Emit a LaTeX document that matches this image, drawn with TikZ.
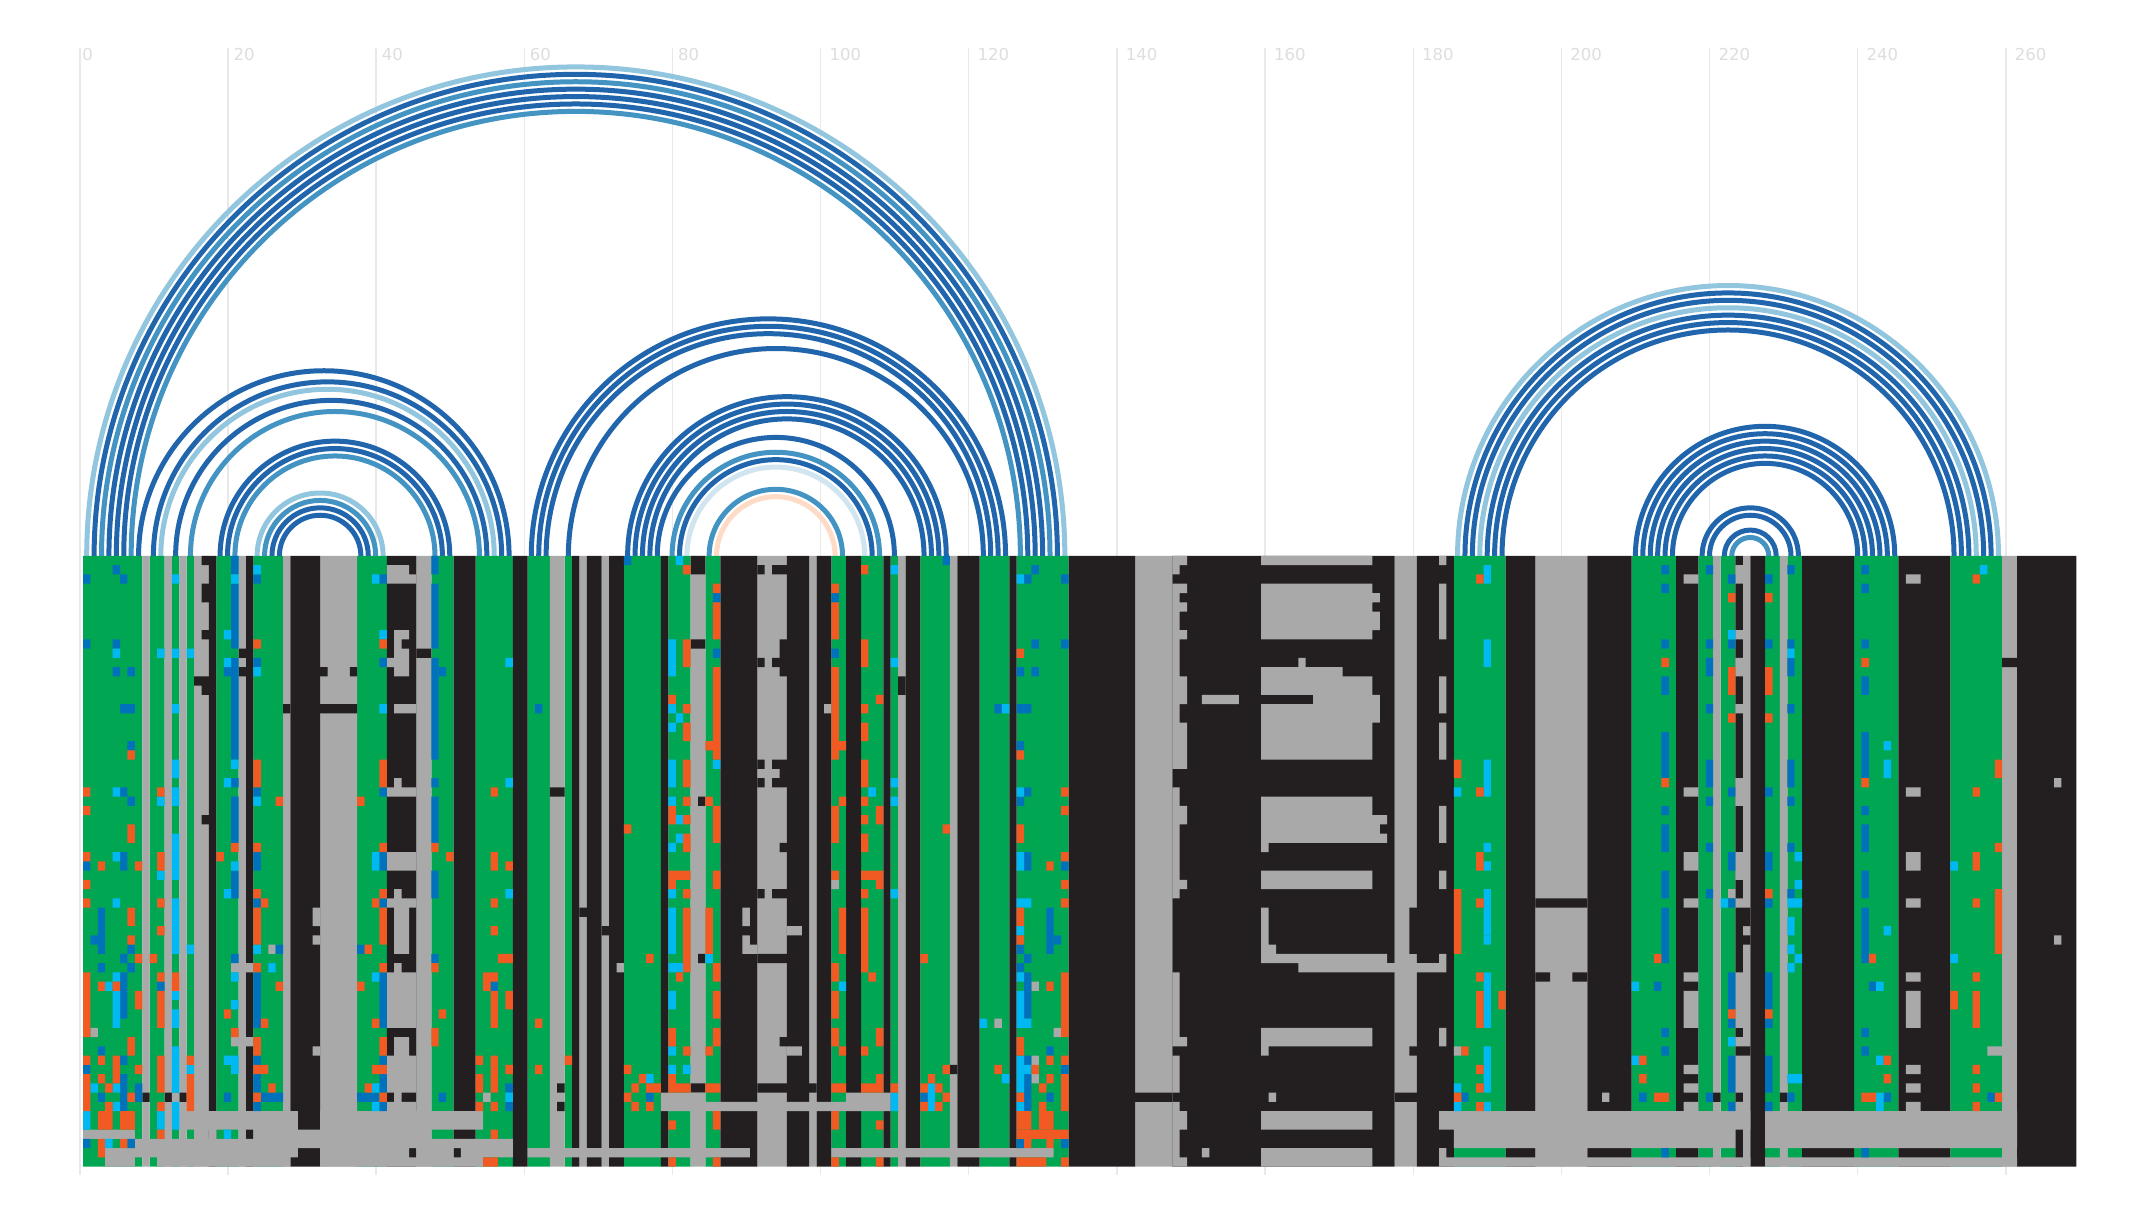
\documentclass[tikz,border=0pt]{standalone}
\usepackage{fontspec}
\setmainfont{DejaVu Sans}
\definecolor{cgreen}{HTML}{00A651}
\definecolor{cgray}{HTML}{A9A9A9}
\definecolor{cblack}{HTML}{231F20}
\definecolor{corange}{HTML}{F15A22}
\definecolor{cblue}{HTML}{0072BC}
\definecolor{ccyan}{HTML}{00B9F2}
\definecolor{adark}{HTML}{2166AC}
\definecolor{amid}{HTML}{4393C3}
\definecolor{alight}{HTML}{92C5DE}
\definecolor{apale}{HTML}{D1E5F0}
\definecolor{apeach}{HTML}{FDDBC7}
\definecolor{gridc}{HTML}{E9E9E9}
\definecolor{labc}{HTML}{DEDEDE}
\newcommand\rectc[2]{\fill[#1] \foreach \c/\r/\w/\h in {#2} {({83+7.41*\c},{664-9.253*\r}) rectangle ++({7.41*\w},{-9.253*\h})};}
\newcommand\runc[2]{\fill[#1] \foreach \c/\r/\h in {#2} {({83+7.41*\c},{664-9.253*\r}) rectangle ++(7.41,{-9.253*\h})};}
\newcommand\onec[2]{\fill[#1] \foreach \c/\r in {#2} {({83+7.41*\c},{664-9.253*\r}) rectangle ++(7.41,-9.253)};}
\newcommand\bandc[2]{\fill[#1] \foreach \c/\w in {#2} {({83+7.41*\c},664) rectangle ++({7.41*\w},{-9.253*66})};}
\tikzset{archline/.style={line width=5pt,line cap=butt},
  gridline/.style={draw=gridc,line width=1.4pt},
  ticklabel/.style={text=labc,font=\fontsize{16.5}{16.5}\selectfont,inner sep=0pt,anchor=base}}
\begin{document}
\begin{tikzpicture}[x=1pt,y=1pt]
\useasboundingbox (0,0) rectangle (2152,1220);
\fill[white] (0,0) rectangle (2152,1220);
% grid and labels
\foreach \i/\n in {0/1,20/2,40/2,60/2,80/2,100/3,120/3,140/3,160/3,180/3,200/3,220/3,240/3,260/3}{
  \draw[gridline] ({79.8+7.408*\i},1172) -- ({79.8+7.408*\i},45);
  \node[ticklabel] (t\i) at ({79.8+7.408*\i+8.5*\n-0.8},1159) {\i};
}
% arcs
\foreach \a/\b/\k in {0/132/alight,1/131/adark,2/130/amid,3/129/adark,4/128/adark,5/127/adark,6/126/amid,
 7/57/adark,9/56/adark,10/55/alight,12/54/adark,14/53/amid,18/49/adark,19/48/adark,20/47/amid,
 23/40/alight,24/39/amid,25/38/adark,26/37/adark,
 60/124/adark,61/123/adark,62/122/adark,65/121/adark,73/116/adark,74/115/adark,75/114/adark,76/113/adark,
 77/109/adark,79/107/amid,80/106/adark,81/105/apale,84/102/amid,85/101/apeach,
 185/258/alight,186/257/adark,187/256/adark,188/255/alight,189/254/adark,190/253/adark,191/252/adark,
 209/244/adark,210/243/adark,211/242/adark,212/241/adark,213/240/adark,214/239/adark,
 218/231/adark,219/230/adark,221/228/adark,222/227/amid}{
  \pgfmathsetmacro\rr{(\b-\a)/2*7.41}
  \draw[archline,draw=\k] ({83+7.41*(\a+.5)},660) -- ({83+7.41*(\a+.5)},664) arc[start angle=180,end angle=0,radius=\rr pt] -- ++(0,-4);
}
% base columns
\bandc{cgreen}{0/8,9/2,12/1,14/1,18/3,23/4,37/4,47/3,53/5,60/3,65/1,73/5,79/3,84/2,101/2,105/3,109/1,113/4,121/4,126/7,185/7,209/6,218/2,221/2,227/2,230/2,239/6,252/7}
\bandc{cgray}{8/1,11/1,13/1,15/2,21/1,27/1,32/5,45/2,63/2,67/1,70/1,82/2,91/4,98/1,110/1,117/1,142/5,177/3,196/7,220/1,224/1,229/1,259/2}
\bandc{cblack}{17/1,22/1,28/4,41/4,50/3,58/2,66/1,68/2,71/2,78/1,86/5,95/3,99/2,103/2,108/1,111/2,118/3,125/1,133/9,147/30,180/5,192/4,203/6,215/3,223/1,225/2,232/7,245/7,261/8}
% black overlays
\rectc{cblack}{16/0/1/1,16/3/1/2,16/8/1/1,15/13/2/1,16/14/1/1,16/28/1/1,21/10/1/1,21/12/1/1,45/10/2/1,32/12/1/1,36/12/1/1,27/16/1/1,32/16/5/1,63/25/2/1,64/57/1/1,64/59/1/1,67/38/1/1,70/40/1/1,8/58/1/1,11/58/1/1,13/58/1/1,110/13/1/2,82/0/2/2,82/9/2/1,83/26/1/1,83/43/1/1,82/57/2/1,91/1/1/1,93/1/2/1,94/9/1/2,91/11/1/1,93/11/2/1,94/12/1/1,91/22/1/1,93/22/2/1,94/23/1/1,91/24/1/1,93/24/2/1,94/31/1/1,91/36/1/1,93/36/2/1,91/43/4/1,94/52/1/1,91/57/4/1,98/57/1/1,117/55/1/1,142/58/5/1,177/58/3/1,179/38/1/5,179/53/1/1,196/37/7/1,196/45/2/1,201/45/2/1,259/11/2/1,224/38/1/2,224/41/1/1,224/53/1/1,220/58/1/1,229/58/1/1}
% gray overlays
\rectc{cgray}{41/1/3/1,41/2/4/1,42/8/2/1,42/9/1/1,42/10/2/1,41/11/3/1,42/12/2/1,42/16/3/1,42/24/1/1,41/25/4/1,41/32/4/2,42/36/1/1,41/37/4/1,42/38/2/5,42/44/1/1,41/45/4/6,42/52/2/2,41/54/4/4,42/58/1/1,41/59/4/1,
20/44/3/1,20/52/3/1,25/42/1/1,1/51/1/1,54/58/1/1,12/58/1/1,31/38/1/2,31/41/1/1,31/53/1/1,
13/60/16/2,32/60/22/2,0/62/7/1,17/62/1/1,23/62/24/1,7/63/51/1,3/64/26/1,32/64/12/1,45/64/5/1,51/64/7/1,60/64/30/1,101/64/30/1,3/65/4/1,10/65/18/1,32/65/22/1,
78/58/6/1,103/58/6/1,78/59/31/1,89/38/1/2,89/41/1/1,89/42/2/1,95/40/2/1,95/53/2/1,101/35/1/1,72/44/1/1,100/16/1/1,128/46/1/1,128/54/1/1,128/56/1/1,123/50/1/1,131/51/1/1,
147/0/1/2,147/3/1/20,147/25/1/12,147/45/1/8,147/54/1/4,147/59/1/7,
148/0/1/1,148/3/1/1,148/5/1/1,148/8/1/1,148/13/1/3,148/18/1/5,148/27/1/2,148/35/1/1,148/52/1/1,148/60/1/2,148/65/1/1,
159/0/15/1,159/3/15/1,159/4/16/1,159/5/15/1,159/6/16/2,159/8/15/1,164/11/1/1,159/12/11/1,159/13/15/2,151/15/5/1,166/15/9/1,159/16/16/2,159/18/15/4,159/26/15/2,159/28/17/1,159/29/16/1,159/30/17/1,159/31/1/1,159/34/15/2,159/38/1/4,159/42/2/1,159/43/17/1,164/44/20/1,159/51/15/2,159/53/1/1,160/58/1/1,159/60/15/2,151/64/1/1,159/64/15/2,
183/0/1/1,183/3/1/6,183/13/1/4,183/18/1/4,183/27/1/4,183/34/1/2,183/43/1/2,183/51/1/2,183/60/42/2,227/60/34/2,185/62/38/2,227/62/34/2,183/64/1/1,183/65/42/1,227/65/34/1,
223/1/1/2,223/8/1/1,223/11/1/2,223/16/1/1,223/24/1/3,223/32/1/3,223/37/1/1,223/45/1/6,223/52/1/1,223/54/1/4,223/59/1/1,
216/2/2/1,216/25/2/1,216/32/2/2,216/37/2/1,216/45/2/1,216/47/2/4,216/55/2/1,216/57/2/1,216/59/2/1,
246/2/2/1,246/25/2/1,246/32/2/2,246/37/2/1,246/45/2/1,246/47/2/4,246/55/2/1,246/57/2/1,246/59/2/1,
222/36/1/1,257/53/2/1,185/53/1/1,266/24/1/1,266/41/1/1,205/58/1/1}
% blue
\onec{cblue}{0/2,0/9,0/33,0/55,0/63,1/41,2/44,2/53,2/58,4/1,4/9,4/12,5/2,5/16,5/25,5/43,5/54,6/12,6/16,6/20,6/26,6/42,6/44,6/63,10/46,19/12,19/58,20/24,20/43,23/2,23/11,23/25,23/37,23/54,23/59,24/58,25/58,26/58,26/42,37/42,37/58,38/58,39/58,40/2,40/11,40/25,40/37,40/54,40/59,47/24,47/43,48/12,48/58,57/57,57/59,55/46,61/16,73/0,76/58,85/4,85/10,101/4,101/10,113/58,116/0,123/16,126/12,126/16,127/16,126/20,126/26,126/42,126/44,126/63,127/2,127/25,127/43,127/54,128/1,128/9,128/12,131/41,130/53,130/58,132/2,132/9,132/33,132/55,132/63,186/58,212/46,241/46,210/58,243/58,257/58,
213/1,213/3,213/9,213/27,213/51,213/53,213/64,240/1,240/3,240/9,240/27,240/51,240/53,240/64,
219/1,219/9,219/16,219/26,219/31,219/36,219/58,230/1,230/9,230/16,230/26,230/31,230/36,230/58,
222/2,222/9,222/25,222/37,222/50,222/59,227/2,227/9,227/25,227/37,227/50,227/59}
\runc{cblue}{2/38/5,5/32/2,5/45/5,5/56/4,7/57/2,20/0/2,20/3/7,20/11/11,20/26/5,20/34/3,23/32/2,23/45/6,23/56/2,40/32/2,40/45/6,40/56/2,47/0/2,47/3/7,47/11/11,47/26/5,47/34/3,127/32/2,127/45/5,127/56/4,130/38/5,
213/13/2,213/19/5,213/29/3,213/34/3,213/38/6,240/13/2,240/19/5,240/29/3,240/34/3,240/38/6,219/11/2,219/22/3,230/11/2,230/22/3,222/32/2,222/45/4,222/54/4,227/32/2,227/45/4,227/54/4}
% cyan
\onec{ccyan}{4/10,4/25,4/32,4/37,4/45,4/57,4/59,3/46,3/63,1/57,10/10,10/26,10/34,12/2,12/10,12/16,12/47,14/10,14/42,14/55,19/8,19/11,19/24,19/36,19/54,19/62,20/2,20/22,20/33,20/48,20/45,23/1,23/12,23/26,23/42,25/44,39/2,39/45,39/57,39/59,40/8,40/16,57/11,57/24,57/36,57/58,
79/16,79/18,79/26,79/31,79/36,79/44,80/44,79/53,79/55,80/0,80/17,80/28,80/30,81/55,84/43,85/22,76/56,102/46,106/25,109/1,109/11,109/24,109/26,109/36,124/16,124/56,121/50,126/2,126/25,126/37,127/37,126/40,126/45,127/50,127/55,126/59,
185/25,189/31,189/33,189/41,185/57,185/59,189/59,209/46,242/46,209/54,242/54,243/20,243/40,222/8,222/52,221/37,230/10,230/37,231/37,230/42,231/43,230/44,230/56,231/56,231/32,231/35,256/1,252/33,252/43}
\runc{ccyan}{4/47/4,0/60/2,10/60/2,12/22/2,12/25/2,12/30/5,12/37/6,12/49/2,12/53/5,12/59/3,20/54/2,39/32/2,79/9/4,79/22/3,79/38/5,79/47/2,109/58/2,114/57/3,126/32/2,126/47/4,126/54/4,
189/1/2,189/9/3,189/22/4,189/36/5,189/45/6,189/53/5,242/58/2,243/22/2,230/39/2}
% orange
\onec{corange}{0/25,0/27,0/32,0/35,0/37,0/54,2/33,2/46,2/54,2/56,2/63,2/64,3/57,3/59,4/46,5/63,6/21,6/41,6/58,7/33,7/43,7/55,9/43,10/25,10/37,10/40,10/45,10/59,10/62,14/54,18/32,19/49,20/31,20/51,23/9,23/31,23/36,23/44,23/55,23/58,24/37,24/50,24/55,25/57,26/26,26/46,37/26,37/46,38/42,38/57,39/37,39/50,39/55,40/9,40/31,40/36,40/44,40/55,40/58,47/31,47/44,48/49,49/32,53/54,53/59,54/45,55/45,54/46,55/25,55/37,55/40,55/59,55/62,54/65,55/65,56/43,57/43,57/33,57/55,61/50,61/55,65/54,73/29,73/55,73/58,74/57,74/59,75/56,76/43,76/57,76/59,77/57,79/15,79/56,79/57,79/61,79/65,80/34,80/45,80/57,81/34,81/57,81/1,81/16,81/26,81/28,81/36,81/53,84/20,84/26,84/53,84/57,85/3,85/57,85/65,101/3,101/34,101/57,101/65,102/20,102/26,102/53,102/57,105/1,105/16,105/26,105/28,105/34,105/36,105/53,105/57,106/34,106/45,106/57,107/15,107/61,107/65,109/57,113/43,113/57,113/59,114/56,115/57,115/59,116/29,116/55,116/58,123/55,126/10,126/21,126/41,126/58,127/63,128/55,129/57,130/46,130/54,130/56,130/33,130/63,132/25,132/27,132/32,132/35,132/37,132/54,132/65,
185/58,186/53,188/2,188/25,188/37,188/45,188/55,188/57,188/59,213/11,213/24,212/43,240/11,240/24,241/43,210/54,243/54,210/56,243/56,212/58,213/58,240/58,241/58,258/58,222/4,222/17,222/49,227/4,227/17,227/36,227/49,255/2,255/25,255/37,255/45,255/55,255/57,255/59,258/31}
\runc{corange}{0/45/7,0/56/4,2/60/2,3/60/2,4/54/3,5/60/2,6/29/2,6/38/2,6/52/2,6/60/2,7/47/2,10/32/2,10/47/4,10/54/4,12/45/2,14/56/4,23/22/3,23/38/4,23/52/2,40/22/3,40/38/4,40/52/2,47/51/2,53/56/2,55/32/2,55/47/4,55/54/4,57/47/2,79/27/2,79/34/2,79/51/2,81/9/3,81/18/2,81/22/3,81/30/2,81/38/7,84/38/5,85/5/4,85/12/10,85/27/4,85/34/2,85/44/2,85/47/3,85/51/2,85/60/2,101/5/4,101/12/10,101/27/4,101/44/2,101/47/3,101/51/2,101/60/2,102/38/5,105/9/3,105/18/2,105/22/3,105/30/2,105/38/7,107/27/2,107/34/2,107/51/2,107/56/2,126/29/2,126/38/2,126/52/2,126/60/2,127/60/2,129/59/3,130/60/2,132/45/7,132/56/4,
185/22/2,185/36/7,188/32/2,188/47/4,191/47/2,222/12/3,227/12/3,255/32/2,255/47/4,258/22/2,258/36/7,252/47/2}
\rectc{corange}{126/62/7/1,126/65/4/1}
\end{tikzpicture}
\end{document}
